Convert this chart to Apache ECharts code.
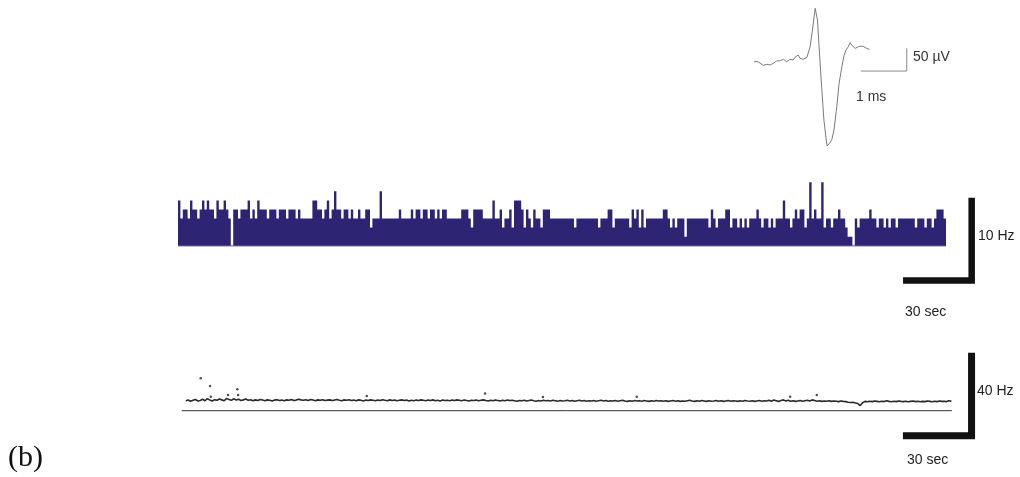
<!DOCTYPE html>
<html><head><meta charset="utf-8">
<script src="https://cdn.jsdelivr.net/npm/echarts@6/dist/echarts.min.js"></script>
<style>html,body{margin:0;padding:0;background:#fff}#c{width:1020px;height:477px}</style>
</head><body><div id="c"></div>
<script>
// ---- spike waveform (ms, µV) ----
const waveT = [0,0.09,0.13,0.2,0.28,0.35,0.42,0.49,0.53,0.57,0.64,0.71,0.78,0.85,0.89,0.93,0.96,1.0,1.04,1.07,1.15,1.18,1.22,1.28,1.33,1.35,1.38,1.41,1.47,1.52,1.57,1.59,1.64,1.69,1.74,1.8,1.85,1.91,1.96,2.0,2.05,2.09,2.12,2.16,2.2,2.23,2.27,2.3,2.34,2.39,2.45,2.51];
const waveV = [0,0,-3.5,-8,-5.7,-7.3,-3.5,1.5,5.3,2.2,5.3,0,5.3,3.7,9.7,5.3,14.8,7.5,11.2,5.3,9.7,5.3,33,77,117.6,115.4,91.9,40.5,-55,-128.4,-172.4,-185.7,-179.7,-172.1,-150.2,-99,-47.6,-11,14.8,25.8,33,41.9,36.8,33,29.3,27.1,33,29.3,34.4,33,29.3,27.1];
const waveBarX = [2.32, 3.32, 3.32];   // 1 ms
const waveBarY = [-20.5, -20.5, 29.5]; // 50 µV

// ---- firing-rate histogram, 1 s bins ----
const histRate = [
5,3,4,4,3,5,4,4,3,4, 5,4,5,4,4,3,5,4,4,5, 4,3,0,4,4,3,4,4,4,5, 3,4,3,5,4,4,4,3,4,4,
4,3,4,4,4,3,4,4,4,3, 4,3,3,3,3,3,5,5,4,4, 3,4,5,3,4,6,4,4,3,4, 4,3,4,3,3,4,3,3,4,4,
2,3,3,3,6,3,3,3,3,3, 3,3,4,3,3,3,3,4,3,4, 4,3,4,4,3,4,4,3,4,3, 4,4,3,3,3,3,3,3,4,4,
4,3,2,4,4,4,4,3,3,3, 3,5,3,3,4,2,3,3,4,2, 5,5,5,4,2,4,3,2,4,3, 3,2,4,4,4,3,3,3,3,3,
3,3,3,3,3,2,3,3,3,3, 3,3,3,3,3,2,3,3,3,4, 4,2,3,3,3,3,3,3,2,4, 3,4,2,4,2,3,3,3,3,3,
3,3,4,4,3,2,3,2,3,3, 3,1,3,3,3,3,3,3,3,3, 3,2,4,3,2,3,3,3,4,4, 2,3,3,2,3,2,3,2,3,3,
3,4,3,2,3,3,2,3,2,3, 3,3,5,3,3,2,3,4,3,4, 4,2,3,7,3,4,3,3,7,2, 3,3,2,3,3,4,3,3,2,1,
1,0,3,2,3,3,3,3,4,3, 3,2,3,3,2,3,2,3,3,2, 3,3,3,3,3,3,3,2,3,3, 3,2,3,3,2,3,4,4,4,3];
const histBarX = [302.1, 330.7, 330.7]; // 30 sec
const histBarY = [-3.84, -3.84, 5.3];   // 10 Hz

// ---- instantaneous rate (Hz), one value per second starting at t = 2 s ----
const rateStart = 2;
const instRate = [
4.6,4.9,4.4,4.8,5.2,4.5,4.7,5.3,4.6,5.6,4.9,4.5,5.1,4.8,5.4,5.0,4.6,5.7,5.2,4.8,
5.5,4.9,5.3,4.7,5.0,5.4,4.8,5.1,4.6,5.0,4.7,5.2,4.9,4.6,5.0,4.8,4.5,4.9,5.1,4.7,
4.9,4.6,5.0,4.8,5.2,4.7,4.9,5.3,5.0,4.8,5.1,4.7,5.2,4.9,4.6,5.0,4.8,5.1,4.7,4.9,
5.0,4.7,4.9,5.2,4.8,4.6,5.0,4.8,5.1,4.7,4.9,4.6,5.0,4.8,4.5,4.9,4.7,5.0,4.8,4.6,
4.9,4.7,5.1,4.8,4.6,5.0,4.7,4.9,4.6,4.8,5.0,4.7,4.9,4.5,4.8,4.6,4.9,4.7,5.0,4.8,
4.6,4.9,4.7,5.0,4.6,4.8,4.5,4.9,4.7,4.8,4.6,4.9,4.7,5.0,4.8,4.6,4.9,4.7,4.5,4.8,
4.7,4.9,4.6,4.8,5.0,4.7,4.5,4.8,4.6,4.9,4.7,4.5,4.8,4.6,4.9,4.7,4.8,4.6,4.4,4.7,
4.6,4.8,4.5,4.7,4.9,4.6,4.4,4.7,4.5,4.8,4.6,4.7,4.5,4.8,4.6,4.4,4.7,4.5,4.6,4.8,
4.5,4.7,4.4,4.6,4.8,4.5,4.7,4.4,4.6,4.5,4.7,4.4,4.6,4.8,4.5,4.7,4.4,4.6,4.5,4.7,
4.4,4.6,4.8,4.5,4.3,4.6,4.4,4.7,4.5,4.6,4.4,4.7,4.5,4.3,4.6,4.4,4.7,4.5,4.6,4.4,
4.6,4.3,4.5,4.7,4.4,4.6,4.3,4.5,4.4,4.6,4.8,4.5,4.3,4.6,4.4,4.7,4.5,4.3,4.6,4.4,
4.5,4.7,4.4,4.6,4.3,4.5,4.7,4.4,4.6,4.5,4.3,4.6,4.4,4.7,4.5,4.4,4.6,4.3,4.5,4.7,
4.4,4.6,4.5,4.8,4.4,4.9,4.6,4.3,4.7,5.0,4.5,4.8,4.4,4.6,4.3,4.5,4.7,4.4,4.6,4.8,
4.5,5.0,4.7,4.4,4.6,4.3,4.5,4.4,4.6,4.3,4.5,4.4,4.2,4.5,4.3,4.2,3.9,3.8,3.9,3.6,
3.3,2.4,3.7,4.3,4.1,4.4,4.2,4.5,4.3,4.1,4.4,4.2,4.6,4.3,4.1,4.4,4.2,4.5,4.3,4.2,
4.4,4.1,4.3,4.5,4.2,4.4,4.1,4.3,4.2,4.5,4.3,4.1,4.4,4.2,4.5,4.3,4.4,4.2,4.6,4.3];
const outlierT = [8.2, 12.1, 12.4, 19.6, 23.5, 23.8, 77.4, 126.7, 150.8, 189.9, 253.8, 264.9];
const outlierV = [15.0, 11.4, 6.5, 7.3, 9.9, 7.3, 6.8, 8.0, 6.3, 6.5, 6.5, 7.3];
const rateBaseX = [0.3, 321.2];
const rateBarX = [300.8, 329.4, 329.4]; // 30 sec
const rateBarY = [-11.6, -11.6, 26.8];  // 40 Hz

const zip = (a, b) => a.map((v, i) => [v, b[i]]);
const histData = histRate.map((v, i) => [i, v]);
histData.push([histRate.length, histRate[histRate.length - 1]]);
const rateData = instRate.map((v, i) => [rateStart + i, v]);

const chart = echarts.init(document.getElementById('c'), null, {renderer: 'canvas'});
const FONT = 'Liberation Sans, Arial, sans-serif';
const hidden = {show: false};
chart.setOption({
  animation: false,
  backgroundColor: '#fff',
  grid: [
    {left: 754, top: 2.68, width: 184, height: 145.3},
    {left: 178, top: 173.2, width: 806.4, height: 117.8},
    {left: 181, top: 345.75, width: 806.4, height: 95.26}
  ],
  xAxis: [
    {type: 'value', gridIndex: 0, min: 0, max: 4, ...hidden},
    {type: 'value', gridIndex: 1, min: 0, max: 336, ...hidden},
    {type: 'value', gridIndex: 2, min: 0, max: 336, ...hidden}
  ],
  yAxis: [
    {type: 'value', gridIndex: 0, min: -190, max: 130, ...hidden},
    {type: 'value', gridIndex: 1, min: -5, max: 8, ...hidden},
    {type: 'value', gridIndex: 2, min: -14, max: 30, ...hidden}
  ],
  series: [
    {type: 'line', xAxisIndex: 0, yAxisIndex: 0, data: zip(waveT, waveV), showSymbol: false,
     lineStyle: {color: '#7a7a7a', width: 1}},
    {type: 'line', xAxisIndex: 0, yAxisIndex: 0, data: zip(waveBarX, waveBarY), showSymbol: false,
     lineStyle: {color: '#8a8a8a', width: 1}},
    {type: 'line', xAxisIndex: 1, yAxisIndex: 1, data: [[0, 0], [histRate.length, 0]], showSymbol: false, z: 1,
     lineStyle: {color: '#a9a4d6', width: 2}},
    {type: 'line', xAxisIndex: 1, yAxisIndex: 1, data: histData, step: 'end', showSymbol: false, z: 2,
     lineStyle: {width: 0, color: '#2d2474'}, areaStyle: {color: '#2d2474', opacity: 1}},
    {type: 'line', xAxisIndex: 1, yAxisIndex: 1, data: zip(histBarX, histBarY), showSymbol: false,
     lineStyle: {color: '#111', width: 6.5, join: 'miter', cap: 'butt'}},
    {type: 'line', xAxisIndex: 2, yAxisIndex: 2, data: [[rateBaseX[0], 0], [rateBaseX[1], 0]], showSymbol: false,
     lineStyle: {color: '#333', width: 1}},
    {type: 'line', xAxisIndex: 2, yAxisIndex: 2, data: rateData, showSymbol: false,
     lineStyle: {color: '#2a2a2a', width: 1.6}},
    {type: 'scatter', xAxisIndex: 2, yAxisIndex: 2, data: zip(outlierT, outlierV), symbolSize: 2.5,
     itemStyle: {color: '#222'}},
    {type: 'line', xAxisIndex: 2, yAxisIndex: 2, data: zip(rateBarX, rateBarY), showSymbol: false,
     lineStyle: {color: '#111', width: 7, join: 'miter', cap: 'butt'}}
  ],
  graphic: [
    {type: 'text', left: 913, top: 50, style: {text: '50 µV', font: '14px ' + FONT, fill: '#333'}},
    {type: 'text', left: 856, top: 90, style: {text: '1 ms', font: '14px ' + FONT, fill: '#333'}},
    {type: 'text', left: 978, top: 229, style: {text: '10 Hz', font: '14px ' + FONT, fill: '#222'}},
    {type: 'text', left: 905, top: 305, style: {text: '30 sec', font: '14px ' + FONT, fill: '#222'}},
    {type: 'text', left: 977, top: 384, style: {text: '40 Hz', font: '14px ' + FONT, fill: '#222'}},
    {type: 'text', left: 907, top: 453, style: {text: '30 sec', font: '14px ' + FONT, fill: '#222'}},
    {type: 'text', left: 8, top: 443, style: {text: '(b)', font: '30px Liberation Serif, Times New Roman, serif', fill: '#111'}}
  ]
});
</script></body></html>
